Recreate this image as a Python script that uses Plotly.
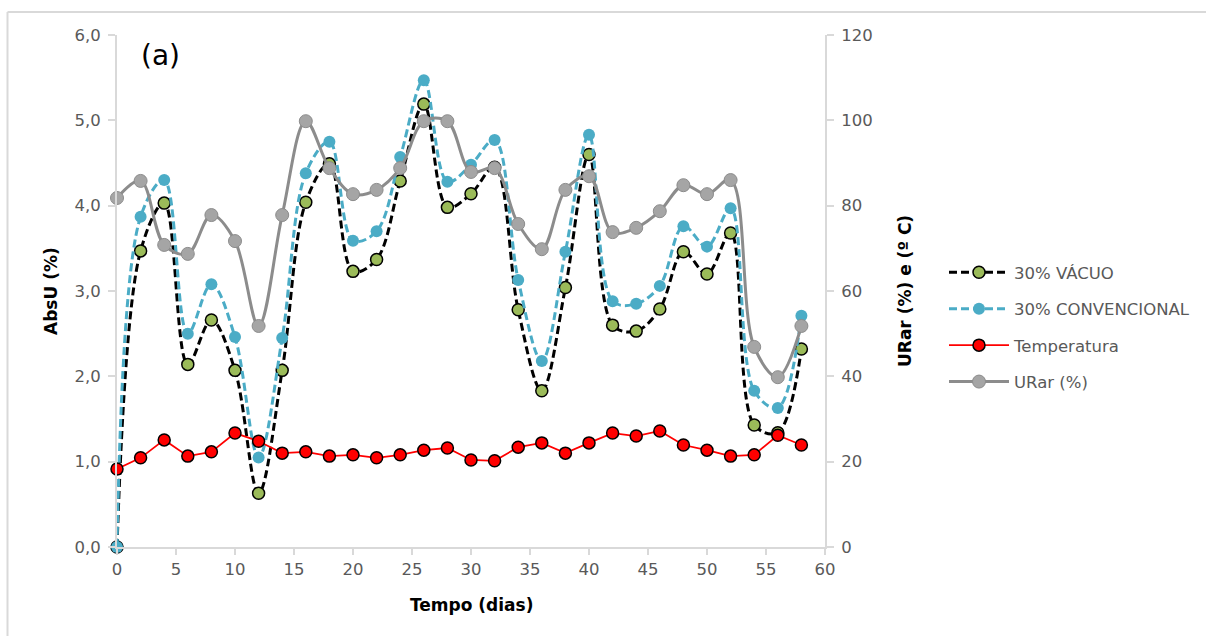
import plotly.graph_objects as go

dias = [0, 2, 4, 6, 8, 10, 12, 14, 16, 18, 20, 22, 24, 26, 28, 30, 32, 34, 36, 38, 40, 42, 44, 46, 48, 50, 52, 54, 56, 58]

vacuo = [0.0, 3.47, 4.03, 2.14, 2.66, 2.07, 0.63, 2.07, 4.04, 4.49, 3.23, 3.37, 4.29, 5.19, 3.98,
         4.14, 4.45, 2.78, 1.83, 3.04, 4.60, 2.60, 2.53, 2.79, 3.46, 3.20, 3.68, 1.43, 1.34, 2.32]

convencional = [0.0, 3.87, 4.30, 2.50, 3.08, 2.46, 1.05, 2.45, 4.38, 4.75, 3.59, 3.70, 4.57, 5.47, 4.28,
                4.48, 4.77, 3.13, 2.18, 3.46, 4.83, 2.88, 2.85, 3.06, 3.76, 3.52, 3.97, 1.83, 1.63, 2.71]

temperatura = [18.3, 20.9, 25.1, 21.3, 22.3, 26.7, 24.8, 22.0, 22.3, 21.3, 21.6, 20.9, 21.6, 22.7, 23.2,
               20.4, 20.2, 23.4, 24.4, 22.0, 24.4, 26.7, 26.0, 27.2, 23.9, 22.7, 21.3, 21.6, 26.2, 23.9]

urar = [81.8, 85.8, 70.8, 68.7, 77.8, 71.7, 51.8, 77.8, 99.8, 88.8, 82.7, 83.7, 88.8, 99.8, 99.8,
        87.9, 88.8, 75.7, 69.8, 83.7, 86.9, 73.8, 74.8, 78.7, 84.8, 82.7, 86.0, 46.9, 39.8, 51.8]

FONT = "DejaVu Sans"
TICK_COLOR = "#595959"
AXIS_COLOR = "#d9d9d9"
TICK_SIZE = 16.5
TITLE_SIZE = 17

fig = go.Figure()

fig.add_trace(go.Scatter(
    x=dias, y=vacuo, name="30% VÁCUO", mode="lines+markers", legendgroup="a",
    line=dict(color="black", width=3, dash="8px,4px", shape="spline", smoothing=1),
    marker=dict(size=12, color="#9bbb59", line=dict(color="black", width=1.5)),
    cliponaxis=False,
))
fig.add_trace(go.Scatter(
    x=dias, y=convencional, name="30% CONVENCIONAL", mode="lines+markers", legendgroup="b",
    line=dict(color="#4bacc6", width=3, dash="8px,4px", shape="spline", smoothing=1),
    marker=dict(size=12, color="#4bacc6"),
    cliponaxis=False,
))
fig.add_trace(go.Scatter(
    x=dias, y=temperatura, name="Temperatura", mode="lines+markers", legendgroup="c", yaxis="y2",
    line=dict(color="#ff0000", width=1.75),
    marker=dict(size=12, color="#ff0000", line=dict(color="black", width=1.5)),
    cliponaxis=False,
))
fig.add_trace(go.Scatter(
    x=dias, y=urar, name="URar (%)", mode="lines+markers", legendgroup="d", yaxis="y2",
    line=dict(color="#8c8c8c", width=3, shape="spline", smoothing=1),
    marker=dict(size=13, color="#a5a5a5", line=dict(color="#8c8c8c", width=1)),
    cliponaxis=False,
))

W, H = 1207, 636
L, R, T, B = 117, 825, 35, 547


def px_x(p):
    return (p - L) / (R - L)


def px_y(p):
    return (B - p) / (B - T)


fig.update_layout(
    width=W, height=H,
    margin=dict(l=L, r=W - R, t=T, b=H - B),
    paper_bgcolor="white", plot_bgcolor="white",
    separators=",.",
    font=dict(family=FONT, size=TICK_SIZE, color=TICK_COLOR),
    showlegend=True,
    legend=dict(
        x=px_x(944), y=px_y(255), xanchor="left", yanchor="top",
        font=dict(family=FONT, size=TICK_SIZE, color=TICK_COLOR),
        tracegroupgap=12, bgcolor="rgba(0,0,0,0)", itemwidth=60,
    ),
    xaxis=dict(
        range=[0, 60], dtick=5, tick0=0, showgrid=False, zeroline=False,
        showline=True, linecolor=AXIS_COLOR, linewidth=2,
        ticks="outside", ticklen=6, tickcolor=AXIS_COLOR, tickwidth=2,
        tickfont=dict(family=FONT, size=TICK_SIZE, color=TICK_COLOR),
    ),
    yaxis=dict(
        range=[0, 6], dtick=1, tick0=0, tickformat=".1f", showgrid=False, zeroline=False,
        showline=True, linecolor=AXIS_COLOR, linewidth=2,
        ticks="outside", ticklen=7, tickcolor=AXIS_COLOR, tickwidth=2,
        tickfont=dict(family=FONT, size=TICK_SIZE, color=TICK_COLOR),
        ticklabelstandoff=4,
    ),
    yaxis2=dict(
        range=[0, 120], dtick=20, tick0=0, overlaying="y", side="right",
        showgrid=False, zeroline=False,
        showline=True, linecolor=AXIS_COLOR, linewidth=2,
        ticks="outside", ticklen=7, tickcolor=AXIS_COLOR, tickwidth=2,
        tickfont=dict(family=FONT, size=TICK_SIZE, color=TICK_COLOR),
        ticklabelstandoff=4,
    ),
)

annotations = [
    dict(text="(a)", x=px_x(160), y=px_y(55), xref="paper", yref="paper",
         xanchor="center", yanchor="middle",
         showarrow=False, font=dict(family=FONT, size=28, color="black")),
    dict(text="<b>AbsU (%)</b>", x=px_x(51), y=px_y(291), xref="paper", yref="paper",
         xanchor="center", yanchor="middle",
         showarrow=False, textangle=-90, font=dict(family=FONT, size=TITLE_SIZE, color="black")),
    dict(text="<b>URar (%) e (º C)</b>", x=px_x(905), y=px_y(291), xref="paper", yref="paper",
         xanchor="center", yanchor="middle",
         showarrow=False, textangle=-90, font=dict(family=FONT, size=TITLE_SIZE, color="black")),
    dict(text="<b>Tempo (dias)</b>", x=px_x(471), y=px_y(605), xref="paper", yref="paper",
         xanchor="center", yanchor="middle",
         showarrow=False, font=dict(family=FONT, size=TITLE_SIZE, color="black")),
]
fig.update_layout(annotations=annotations)

shapes = [
    dict(type="line", xref="paper", yref="paper", x0=px_x(7.5), x1=px_x(1206), y0=px_y(12), y1=px_y(12),
         line=dict(color="#d9d9d9", width=2)),
    dict(type="line", xref="paper", yref="paper", x0=px_x(7.5), x1=px_x(7.5), y0=px_y(12), y1=px_y(640),
         line=dict(color="#d9d9d9", width=2)),
]
fig.update_layout(shapes=shapes)

fig.write_html("out.html")
